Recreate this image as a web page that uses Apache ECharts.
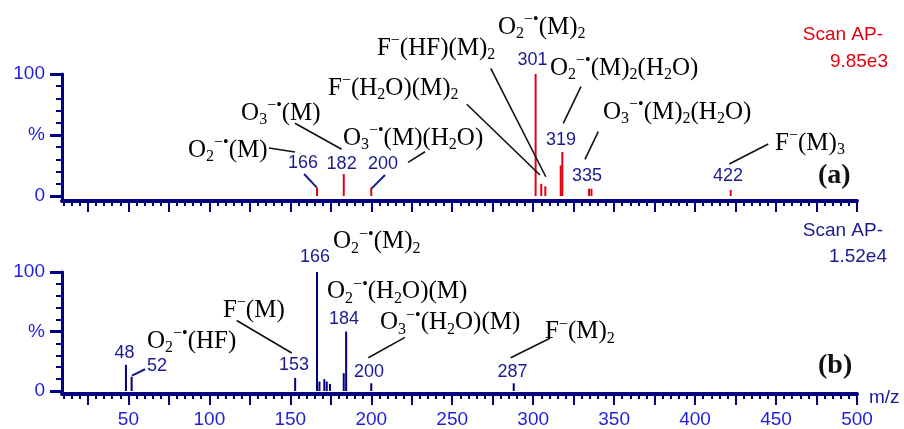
<!DOCTYPE html>
<html>
<head>
<meta charset="utf-8">
<script src="https://cdn.jsdelivr.net/npm/echarts@6/dist/echarts.min.js"></script>
<style>
html, body { margin: 0; padding: 0; background: #fff; }
#chart { width: 904px; height: 429px; }
</style>
</head>
<body>
<div id="chart"></div>
<script>
// (a) peaks: m/z and relative intensity (%)
var mzA = [166.5, 183, 200, 301.5, 305, 307.5, 317, 318, 334.5, 336, 422];
var intA = [7, 18, 7, 101, 10, 8, 25, 36, 6, 6, 5];
// (b) peaks
var mzB = [48.5, 52, 153, 166.5, 168, 171, 172.5, 174.5, 183, 184.5, 200, 288];
var intB = [22, 12, 11, 102, 8, 10, 8, 6, 15, 50, 6.5, 6.5];

// peak numbers written on the spectra
var tagsA = ['166', '182', '200', '301', '319', '335', '422'];
var tagsB = ['48', '52', '153', '166', '184', '200', '287'];

// ion formulas: _{..} subscript, ^{..} superscript
var ionsA = ['O_{2}^{−•}(M)', 'O_{3}^{−•}(M)', 'O_{3}^{−•}(M)(H_{2}O)', 'F^{−}(H_{2}O)(M)_{2}',
  'F^{−}(HF)(M)_{2}', 'O_{2}^{−•}(M)_{2}', 'O_{2}^{−•}(M)_{2}(H_{2}O)', 'O_{3}^{−•}(M)_{2}(H_{2}O)', 'F^{−}(M)_{3}'];
var ionsB = ['O_{2}^{−•}(HF)', 'F^{−}(M)', 'O_{2}^{−•}(M)_{2}', 'O_{2}^{−•}(H_{2}O)(M)',
  'O_{3}^{−•}(H_{2}O)(M)', 'F^{−}(M)_{2}'];

// axis ticks / labels
var xLabels = [50, 100, 150, 200, 250, 300, 350, 400, 450, 500];
var yLabels = [0, 50, 100];

// annotation placement, in data units (m/z, %)
var tagPosA = [[157.8, 27], [181.7, 26.6], [207.3, 26.6], [299.6, 111.5], [317.2, 45.9], [333.2, 16.4], [420.3, 16]];
var tagPosB = [[47.6, 31.6], [67.7, 20.9], [152.3, 21.7], [165.3, 112.7], [183.2, 60.2], [198.6, 16], [287.2, 16]];
var ionPosA = [[86.8, 37.7], [119.6, 68], [182.5, 47.5], [173.3, 88.5], [203.5, 121.3], [278.3, 138.5],
  [310.4, 104.9], [343.1, 68.9], [449.4, 43.4]];
var ionPosB = [[61.5, 41.8], [108.4, 68], [176.4, 125.4], [172.7, 83.6], [205.4, 57.4], [307.3, 50]];
var linkA = [[158.5, 18, 166.3, 7.1], [208.5, 17.2, 200.3, 6.3]];
var linkB = [[52.2, 12.9, 60.3, 18.3]];
var leadA = [[136.8, 39.3, 152.9, 36.1], [152.9, 59.6, 181.7, 38.3], [222.7, 27.6, 233.2, 36.3],
  [259, 75.2, 304.2, 17.2], [273.8, 104.7, 307.8, 15.8], [329.5, 89.6, 318.6, 59.6],
  [340.2, 52.7, 332, 30.1], [445.2, 42.6, 421.1, 26.2]];
var leadB = [[116.9, 59.3, 150.9, 32], [198.2, 27.9, 220.8, 45.1], [286.1, 27.9, 310.4, 44.3]];

var NAVY = '#000080', BLUE = '#1e1edc', TAG = '#1a1a8e', RED = '#e3000f';

var minorX = [], majorX = [], minorY = [];
for (var v = 10; v <= 500; v += 5) minorX.push(v);
for (var v = 25; v <= 500; v += 25) majorX.push(v);
for (var v = 0; v <= 100; v += 10) minorY.push(v);

function chem(s) {
  return s.replace(/_\{([^}]*)\}|\^\{([^}]*)\}|([^_^]+)/g, function (m, sb, sp, n) {
    if (sb !== undefined) return '{sb|' + sb + '}';
    if (sp !== undefined) return '{sp|' + sp + '}';
    return '{n|' + n + '}';
  });
}

var chemRich = {
  n: { fontFamily: 'Liberation Serif', fontSize: 25, color: '#111', lineHeight: 30 },
  g: { fontFamily: 'Liberation Serif', fontSize: 25, color: '#111', lineHeight: 30 },
  sb: { fontFamily: 'Liberation Serif', fontSize: 16, color: '#111', verticalAlign: 'bottom', lineHeight: 16 },
  sp: { fontFamily: 'Liberation Serif', fontSize: 16, color: '#111', verticalAlign: 'top', lineHeight: 12 }
};

function xAxes(g, labels) {
  return [{
    type: 'value', gridIndex: g, min: 9, max: 500,
    axisLine: { onZero: false, lineStyle: { color: NAVY, width: 4 } },
    axisTick: { customValues: minorX, length: 5, lineStyle: { color: NAVY, width: 2 } },
    axisLabel: labels ? { customValues: xLabels, color: BLUE, fontFamily: 'Liberation Sans', fontSize: 19, margin: 16 } : { show: false },
    splitLine: { show: false }
  }, {
    type: 'value', gridIndex: g, min: 9, max: 500, offset: 0, position: 'bottom',
    axisLine: { show: false, onZero: false },
    axisTick: { customValues: majorX, length: 11, lineStyle: { color: NAVY, width: 2 } },
    axisLabel: { show: false }, splitLine: { show: false }
  }];
}

function yAxes(g, min) {
  return [{
    type: 'value', gridIndex: g, min: min, max: 100, position: 'left',
    axisLine: { show: true, lineStyle: { color: NAVY, width: 3 } },
    axisTick: { customValues: minorY, length: 6, lineStyle: { color: NAVY, width: 2 } },
    axisLabel: {
      customValues: yLabels, color: BLUE, fontFamily: 'Liberation Sans', fontSize: 19, margin: 17,
      formatter: function (v) { return v === 50 ? '%' : String(v); }
    },
    splitLine: { show: false }
  }, {
    type: 'value', gridIndex: g, min: min, max: 100, position: 'left', offset: 0,
    axisLine: { show: false },
    axisTick: { customValues: yLabels, length: 12, lineStyle: { color: NAVY, width: 3 } },
    axisLabel: { show: false }, splitLine: { show: false }
  }];
}

function peaks(ax, mz, inten, color) {
  return {
    type: 'bar', xAxisIndex: ax, yAxisIndex: ax, barWidth: 2, silent: true,
    itemStyle: { color: color },
    data: mz.map(function (m, i) { return [m, inten[i]]; })
  };
}

function lines(ax, segs, color, width) {
  return {
    type: 'custom', xAxisIndex: ax, yAxisIndex: ax, clip: false, silent: true, z: 4,
    data: segs,
    renderItem: function (params, api) {
      var a = api.coord([api.value(0), api.value(1)]);
      var b = api.coord([api.value(2), api.value(3)]);
      return { type: 'line', shape: { x1: a[0], y1: a[1], x2: b[0], y2: b[1] },
        style: { stroke: color, lineWidth: width } };
    }
  };
}

function texts(ax, pos, list, style) {
  return {
    type: 'custom', xAxisIndex: ax, yAxisIndex: ax, clip: false, silent: true, z: 5,
    data: pos,
    renderItem: function (params, api) {
      var p = api.coord([api.value(0), api.value(1)]);
      var st = Object.assign({}, style);
      st.text = style.rich ? chem(list[params.dataIndex]) : list[params.dataIndex];
      return { type: 'text', x: p[0], y: p[1], style: st };
    }
  };
}

var tagStyle = { fill: TAG, font: '18px "Liberation Sans"', align: 'center', verticalAlign: 'middle' };
var ionStyle = { rich: chemRich, align: 'left', verticalAlign: 'middle' };

var chart = echarts.init(document.getElementById('chart'), null, { renderer: 'canvas' });
chart.setOption({
  animation: false,
  backgroundColor: '#fff',
  grid: [
    { left: 62, width: 795, top: 74, height: 126.9 },
    { left: 62, width: 795, top: 272, height: 125 }
  ],
  xAxis: xAxes(0, false).concat(xAxes(1, true)),
  yAxis: yAxes(0, -4).concat(yAxes(1, -2.5)),
  series: [
    peaks(0, mzA, intA, RED),
    peaks(2, mzB, intB, NAVY),
    lines(0, linkA, TAG, 2),
    lines(2, linkB, TAG, 2),
    lines(0, leadA, '#111', 1.6),
    lines(2, leadB, '#111', 1.6),
    texts(0, tagPosA, tagsA, tagStyle),
    texts(2, tagPosB, tagsB, tagStyle),
    texts(0, ionPosA, ionsA, ionStyle),
    texts(2, ionPosB, ionsB, ionStyle)
  ],
  graphic: [
    { type: 'text', right: 21, top: 25, style: { text: 'Scan AP-', fill: RED, font: '19px "Liberation Sans"' } },
    { type: 'text', right: 16, top: 52, style: { text: '9.85e3', fill: RED, font: '19px "Liberation Sans"' } },
    { type: 'text', right: 21, top: 221, style: { text: 'Scan AP-', fill: TAG, font: '19px "Liberation Sans"' } },
    { type: 'text', right: 17, top: 247, style: { text: '1.52e4', fill: TAG, font: '19px "Liberation Sans"' } },
    { type: 'text', left: 818, top: 162, style: { text: '(a)', fill: '#111', font: 'bold 28px "Liberation Serif"' } },
    { type: 'text', left: 818, top: 352, style: { text: '(b)', fill: '#111', font: 'bold 28px "Liberation Serif"' } },
    { type: 'text', left: 869, top: 388, style: { text: 'm/z', fill: TAG, font: '19px "Liberation Sans"' } }
  ]
});
</script>
</body>
</html>
